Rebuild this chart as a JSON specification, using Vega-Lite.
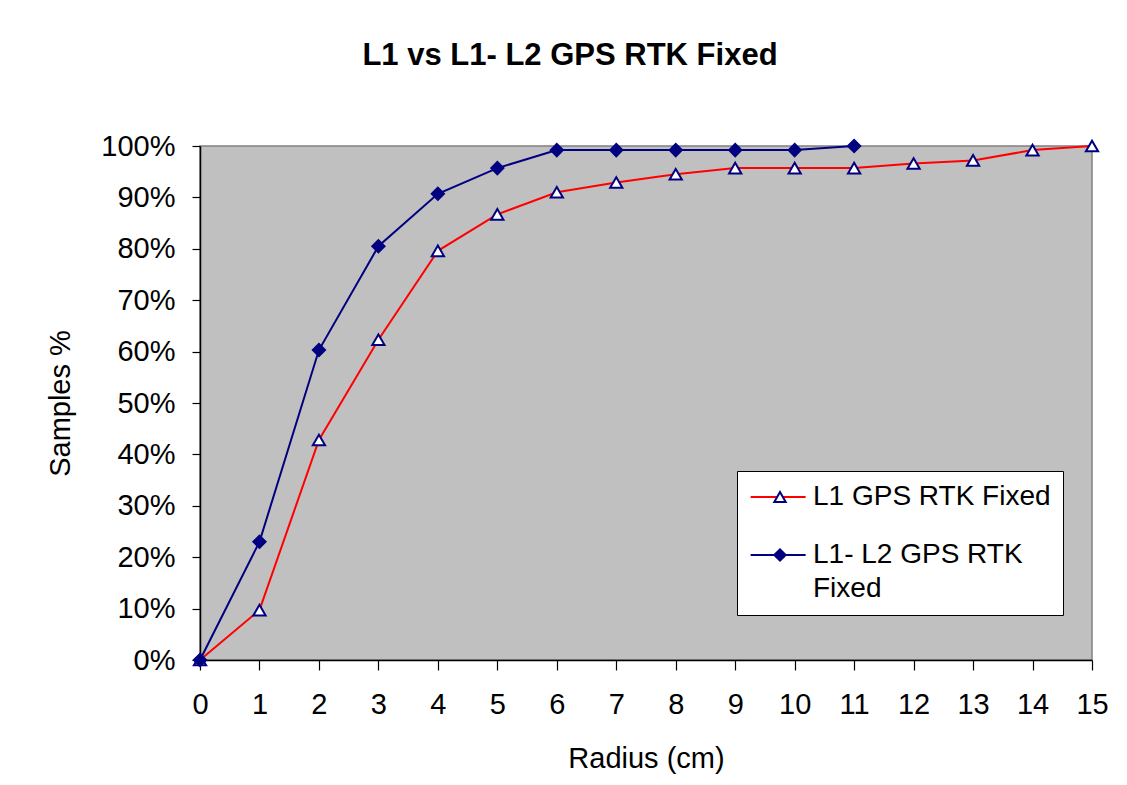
{
  "$schema": "https://vega.github.io/schema/vega-lite/v6.json",
  "autosize": "none",
  "width": 892,
  "height": 514,
  "padding": {"left": 200, "top": 146, "right": 35, "bottom": 125},
  "background": "white",
  "title": {
    "text": "L1 vs L1- L2 GPS RTK Fixed",
    "anchor": "middle",
    "frame": "group",
    "baseline": "alphabetic",
    "offset": 36,
    "dx": -76,
    "font": "Liberation Sans",
    "fontSize": 31,
    "fontWeight": "bold",
    "color": "black"
  },
  "config": {
    "font": "Liberation Sans",
    "view": {"fill": "#C0C0C0", "stroke": "#808080", "strokeWidth": 1.5},
    "axis": {
      "grid": false,
      "domainColor": "black",
      "domainWidth": 1.5,
      "tickColor": "black",
      "tickWidth": 1.2,
      "labelColor": "black",
      "labelFont": "Liberation Sans",
      "labelFontSize": 29,
      "titleFont": "Liberation Sans",
      "titleFontSize": 29,
      "titleFontWeight": "normal",
      "titleColor": "black"
    }
  },
  "data": {
    "values": [
      {"radius": 0, "pct": 0.0, "series": "L1 GPS RTK Fixed"},
      {"radius": 1, "pct": 0.097, "series": "L1 GPS RTK Fixed"},
      {"radius": 2, "pct": 0.428, "series": "L1 GPS RTK Fixed"},
      {"radius": 3, "pct": 0.623, "series": "L1 GPS RTK Fixed"},
      {"radius": 4, "pct": 0.796, "series": "L1 GPS RTK Fixed"},
      {"radius": 5, "pct": 0.867, "series": "L1 GPS RTK Fixed"},
      {"radius": 6, "pct": 0.910, "series": "L1 GPS RTK Fixed"},
      {"radius": 7, "pct": 0.929, "series": "L1 GPS RTK Fixed"},
      {"radius": 8, "pct": 0.945, "series": "L1 GPS RTK Fixed"},
      {"radius": 9, "pct": 0.957, "series": "L1 GPS RTK Fixed"},
      {"radius": 10, "pct": 0.957, "series": "L1 GPS RTK Fixed"},
      {"radius": 11, "pct": 0.957, "series": "L1 GPS RTK Fixed"},
      {"radius": 12, "pct": 0.966, "series": "L1 GPS RTK Fixed"},
      {"radius": 13, "pct": 0.972, "series": "L1 GPS RTK Fixed"},
      {"radius": 14, "pct": 0.992, "series": "L1 GPS RTK Fixed"},
      {"radius": 15, "pct": 1.0, "series": "L1 GPS RTK Fixed"},
      {"radius": 0, "pct": 0.0, "series": "L1- L2  GPS RTK Fixed"},
      {"radius": 1, "pct": 0.230, "series": "L1- L2  GPS RTK Fixed"},
      {"radius": 2, "pct": 0.603, "series": "L1- L2  GPS RTK Fixed"},
      {"radius": 3, "pct": 0.805, "series": "L1- L2  GPS RTK Fixed"},
      {"radius": 4, "pct": 0.907, "series": "L1- L2  GPS RTK Fixed"},
      {"radius": 5, "pct": 0.957, "series": "L1- L2  GPS RTK Fixed"},
      {"radius": 6, "pct": 0.992, "series": "L1- L2  GPS RTK Fixed"},
      {"radius": 7, "pct": 0.992, "series": "L1- L2  GPS RTK Fixed"},
      {"radius": 8, "pct": 0.992, "series": "L1- L2  GPS RTK Fixed"},
      {"radius": 9, "pct": 0.992, "series": "L1- L2  GPS RTK Fixed"},
      {"radius": 10, "pct": 0.992, "series": "L1- L2  GPS RTK Fixed"},
      {"radius": 11, "pct": 1.0, "series": "L1- L2  GPS RTK Fixed"}
    ]
  },
  "encoding": {
    "x": {
      "field": "radius",
      "type": "quantitative",
      "scale": {"domain": [0, 15], "nice": false},
      "axis": {
        "title": "Radius (cm)",
        "values": [0,1,2,3,4,5,6,7,8,9,10,11,12,13,14,15],
        "tickSize": 10,
        "labelPadding": 20,
        "titlePadding": 25,
        "labelFlush": false,
        "labelOverlap": false
      }
    },
    "y": {
      "field": "pct",
      "type": "quantitative",
      "scale": {"domain": [0, 1], "nice": false},
      "axis": {
        "title": "Samples %",
        "values": [0,0.1,0.2,0.3,0.4,0.5,0.6,0.7,0.8,0.9,1.0],
        "format": ".0%",
        "tickSize": 8,
        "labelPadding": 17,
        "titlePadding": 25,
        "labelFlush": false,
        "labelOverlap": false
      }
    }
  },
  "layer": [
    {
      "mark": {"type": "line", "strokeWidth": 2},
      "encoding": {
        "color": {
          "field": "series",
          "type": "nominal",
          "scale": {"domain": ["L1 GPS RTK Fixed", "L1- L2  GPS RTK Fixed"], "range": ["#FF0000", "#000080"]},
          "legend": {
            "title": null,
            "orient": "none",
            "legendX": 537,
            "legendY": 325,
            "fillColor": "white",
            "strokeColor": "black",
            "padding": 12,
            "symbolType": "M-1.8,0H6.2",
            "symbolSize": 189,
            "symbolStrokeWidth": 2,
            "labelFont": "Liberation Sans",
            "labelFontSize": 28,
            "labelColor": "black",
            "labelLimit": 400,
            "labelOffset": 36,
            "rowPadding": 30,
            "labelExpr": "datum.label == 'L1- L2  GPS RTK Fixed' ? ['L1- L2  GPS RTK', 'Fixed'] : datum.label",
            "encode": {"labels": {"update": {"lineHeight": {"value": 34}}}}
          }
        }
      }
    },
    {
      "mark": {"type": "point", "filled": true, "opacity": 1, "size": 150, "strokeWidth": 2},
      "encoding": {
        "shape": {
          "field": "series",
          "type": "nominal",
          "scale": {"range": ["triangle-up", "diamond"]},
          "legend": {
            "title": null,
            "orient": "none",
            "legendX": 554,
            "legendY": 325,
            "padding": 12,
            "labelFontSize": 28,
            "labelOffset": 0,
            "rowPadding": 30,
            "symbolSize": 130,
            "symbolStrokeWidth": 2,
            "labelExpr": "''"
          }
        },
        "fill": {
          "field": "series",
          "type": "nominal",
          "scale": {"range": ["white", "#000080"]},
          "legend": {
            "title": null,
            "orient": "none",
            "legendX": 554,
            "legendY": 325,
            "padding": 12,
            "labelFontSize": 28,
            "labelOffset": 0,
            "rowPadding": 30,
            "symbolSize": 130,
            "symbolStrokeWidth": 2,
            "labelExpr": "''"
          }
        },
        "stroke": {"value": "#000080"}
      }
    }
  ]
}
